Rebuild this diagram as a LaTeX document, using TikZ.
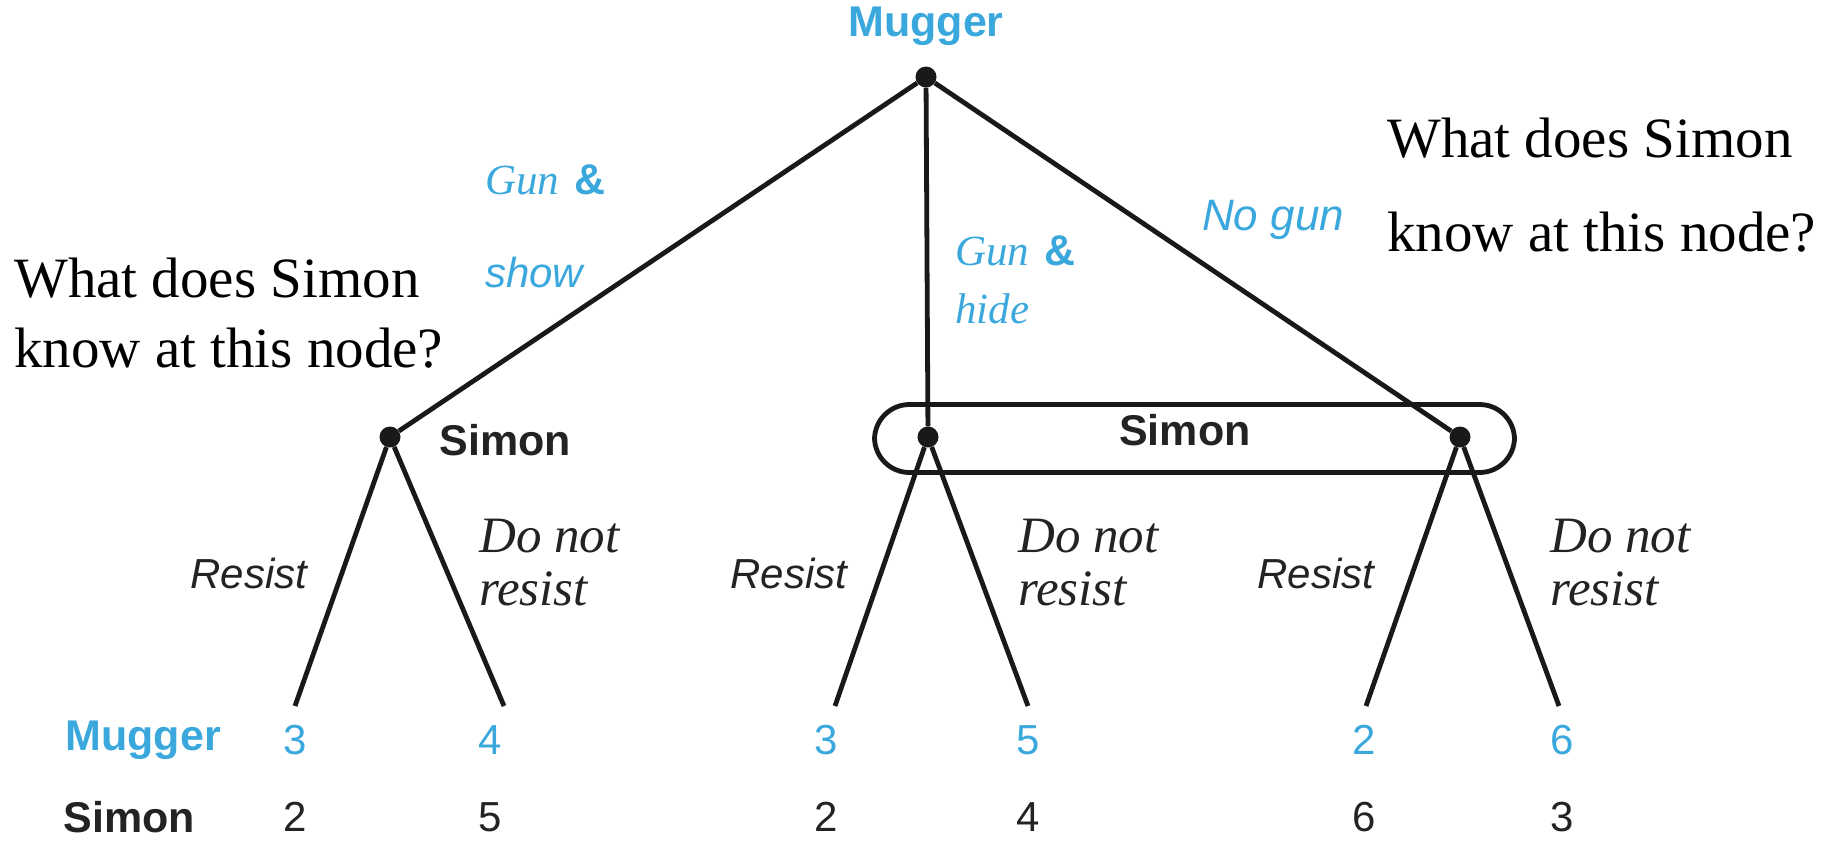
\documentclass[tikz,border=0pt]{standalone}
\usepackage{fontspec}
\setmainfont{Liberation Serif}
\setsansfont{Liberation Sans}
\definecolor{mblue}{RGB}{58,168,220}
\definecolor{dgray}{RGB}{35,35,35}
\tikzset{
  edge/.style={line width=4.8pt, black!90},
  dot/.style={circle, fill=black!90, inner sep=0pt, minimum size=21pt},
  player/.style={font=\sffamily\bfseries\fontsize{43}{48}\selectfont},
  payoff/.style={font=\sffamily\fontsize{42}{48}\selectfont},
  movesans/.style={font=\sffamily\itshape\fontsize{42}{48}\selectfont, text=mblue, inner sep=0pt, anchor=west},
  moveserif/.style={font=\rmfamily\itshape\fontsize{43}{48}\selectfont, text=mblue, inner sep=0pt, anchor=west},
  resist/.style={font=\sffamily\itshape\fontsize{42}{48}\selectfont, text=dgray},
  donot/.style={font=\rmfamily\itshape\fontsize{51}{53}\selectfont, text=dgray, align=left, anchor=west, inner sep=0pt},
  question/.style={font=\rmfamily\fontsize{57}{70}\selectfont, align=left, anchor=west, inner sep=0pt},
}
\newcommand{\amp}{\hspace{0.35em}\textsf{\bfseries\upshape \&}}
\begin{document}
\begin{tikzpicture}[x=1pt,y=-1pt]
\useasboundingbox (0,0) rectangle (1831,843);
% decision nodes
\node[dot] (root) at (926,77) {};
\node[dot] (L) at (390,437) {};
\node[dot] (M) at (928,437) {};
\node[dot] (R) at (1460,437) {};
\node[player, text=mblue] (rootlab) at (926,26) {Mugger};
\node[player, text=dgray, anchor=west] (Llab) at (436,440) {Simon};
% information set
\node[draw=black!90, line width=4.8pt, rounded corners=35pt, minimum width=640pt, minimum height=68pt, inner sep=0pt] (info) at (1194.5,438.5) {};
\node[player, text=dgray] (Mlab) at (1185,430) {Simon};
% leaves
\coordinate (l1) at (295,706);
\coordinate (l2) at (504,706);
\coordinate (l3) at (835,706);
\coordinate (l4) at (1028,706);
\coordinate (l5) at (1366,706);
\coordinate (l6) at (1559,706);
% edges
\draw[edge] (root) -- (L);
\draw[edge] (root) -- (M);
\draw[edge] (root) -- (R);
\draw[edge] (L) -- (l1);
\draw[edge] (L) -- (l2);
\draw[edge] (M) -- (l3);
\draw[edge] (M) -- (l4);
\draw[edge] (R) -- (l5);
\draw[edge] (R) -- (l6);
% move labels of the mugger
\node[moveserif] (g1) at (485,180) {Gun\amp};
\node[movesans] (s1) at (485,272) {show};
\node[moveserif] (g2) at (955,251) {Gun\amp};
\node[moveserif] (h2) at (955,309) {hide};
\node[movesans, font=\sffamily\itshape\fontsize{44}{48}\selectfont] (ng) at (1202,220) {No gun};
% Simon's moves
\node[resist] (r1) at (249,573) {Resist};
\node[resist] (r2) at (789,573) {Resist};
\node[resist] (r3) at (1316,573) {Resist};
\node[donot] (d1) at (479,563) {Do not\\resist};
\node[donot] (d2) at (1018,563) {Do not\\resist};
\node[donot] (d3) at (1550,563) {Do not\\resist};
% questions
\node[question] (q1) at (14,313) {What does Simon\\know at this node?};
\node[question] (q2) at (1387,185) {What does Simon\\[24pt]know at this node?};
% payoffs
\node[player, text=mblue, anchor=west] (pm) at (62,740) {Mugger};
\node[player, text=dgray, anchor=west] (ps) at (60,817) {Simon};
\foreach \x/\a/\b [count=\i] in {295/3/2, 490/4/5, 826/3/2, 1028/5/4, 1364/2/6, 1562/6/3}{
  \node[payoff, text=mblue] (m\i) at (\x,740) {\a};
  \node[payoff, text=dgray] (s\i) at (\x,817) {\b};
}
\end{tikzpicture}
\end{document}
